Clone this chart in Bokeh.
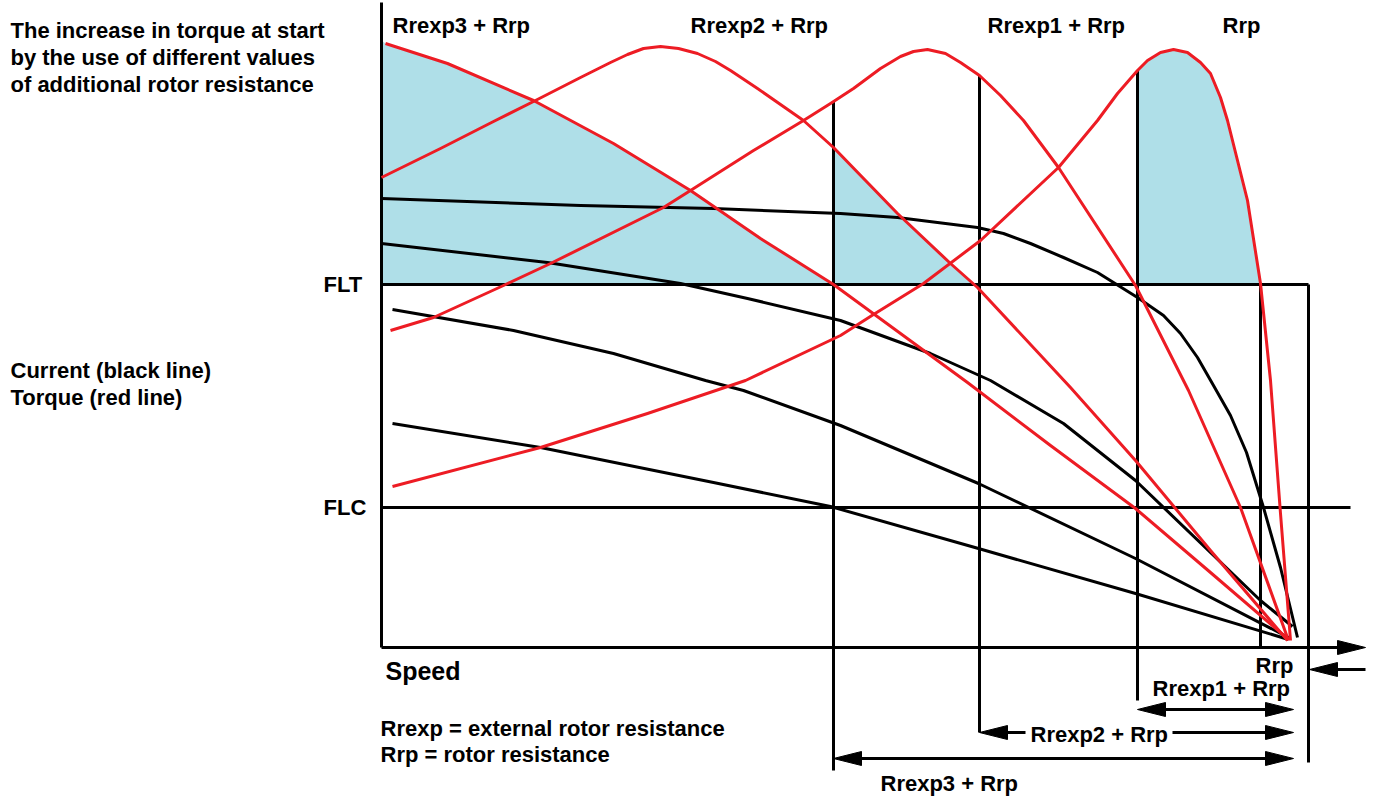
import numpy as np
from bokeh.plotting import figure
from bokeh.models import Range1d
from bokeh.core.properties import value
from bokeh.embed import file_html
from bokeh.resources import INLINE

# ---------------- data (speed on x, torque/current on y, origin at axes corner) -------------
FLT = 363          # full load torque level
FLC = 140          # full load current level

# torque curves (red)
rrexp3_speed = [4, 66, 152, 232, 309, 379, 452, 519, 586, 669, 754, 829, 906]
rrexp3_torque = [604, 584, 547, 504, 457, 409, 363, 314, 265, 202, 139, 75, 9]

rrexp2_speed = [0, 59, 112, 152, 199, 229, 246, 262, 279, 297, 316, 334, 349, 376, 422, 452,
                516, 569, 596, 689, 754, 829, 906]
rrexp2_torque = [470, 499, 526, 546, 570, 585, 593, 599, 601, 599, 594, 586, 577, 559, 527, 500,
                 434, 384, 360, 260, 187, 97, 7]

rrexp1_speed = [9, 52, 122, 169, 282, 309, 372, 422, 449, 472, 499, 519, 532, 546, 564, 579,
                598, 619, 642, 677, 754, 807, 859, 907]
rrexp1_torque = [317, 330, 362, 384, 440, 457, 497, 527, 544, 559, 579, 591, 596, 598, 594, 585,
                 572, 552, 527, 480, 362, 257, 140, 7]

rrp_speed = [11, 159, 266, 364, 459, 492, 542, 599, 677, 716, 736, 756, 766, 779, 792, 806,
             819, 829, 839, 846, 866, 879, 889, 899, 909]
rrp_torque = [161, 200, 234, 267, 312, 333, 364, 407, 480, 527, 554, 577, 587, 595, 598, 595,
              585, 574, 550, 527, 447, 364, 267, 134, 7]

# current curves (black)
cur1_speed = [0, 199, 332, 459, 516, 596, 622, 649, 682, 716, 756, 782, 799, 816, 832, 849,
              865, 882, 899, 916]
cur1_value = [449, 442, 439, 434, 430, 420, 414, 404, 390, 375, 350, 332, 314, 290, 262, 232,
              195, 140, 80, 10]
cur2_speed = [0, 166, 299, 366, 459, 549, 609, 682, 754, 879, 911]
cur2_value = [404, 385, 364, 349, 327, 294, 267, 224, 167, 47, 21]
cur3_speed = [11, 132, 232, 324, 362, 459, 597, 754, 909]
cur3_value = [338, 317, 294, 267, 257, 222, 164, 89, 9]
cur4_speed = [11, 159, 332, 449, 597, 754, 907]
cur4_value = [224, 200, 165, 141, 99, 54, 8]

# switching speeds (Rrexp3, Rrexp2, Rrexp1), Rrp crossing, limit, rated speed
switch_speeds = [452, 598, 756]
rp_speed = 879
limit_speed = 927
rated_speed = 912
axis_x_end = 984
axis_y_end = 645
flc_end = 969

# dimension rows below the speed axis
dim_left = [756, 598, 452]
dim_y = [-62, -85, -111]
vline_bottom = [-123, -85, -53]     # bottoms of the switching verticals (same order as switch_speeds)
limit_bottom = -115
rrexp2_gap = [644, 791]
rp_marker_y = -22

# texts (y = baseline level)
title_lines = ["The increase in torque at start", "by the use of different values",
               "of additional rotor resistance"]
title_y = [617, 590, 563]
legend_lines = ["Current (black line)", "Torque (red line)"]
legend_y = [277, 250]
flt_label_y = FLT
flc_label_y = FLC
top_labels = ["Rrexp3 + Rrp", "Rrexp2 + Rrp", "Rrexp1 + Rrp", "Rrp"]
top_label_x = [11, 309, 606, 841]
top_label_y = 622
bottom_labels = ["Rrp", "Rrexp1 + Rrp", "Rrexp2 + Rrp", "Rrexp3 + Rrp"]
bottom_label_x = [874, 771, 649, 499]
bottom_label_y = [-18, -41, -87, -136]
notes = ["Rrexp = external rotor resistance", "Rrp = rotor resistance"]
notes_y = [-81, -107]
speed_label_y = -23

RED = "#ED1C24"
BLUE = "#AFDFE8"
FONT = value("Liberation Sans")

p = figure(width=1374, height=796, x_range=Range1d(-381, 993), y_range=Range1d(-149, 647),
           output_backend="svg", toolbar_location=None, x_axis_type=None, y_axis_type=None,
           min_border=0)
p.outline_line_color = None
p.background_fill_color = "white"

# ---------------- shaded regions ----------------
def interp_on(xs, ys, x):
    return float(np.interp(x, xs, ys))

def crossing_desc(xs, ys, level, start):
    xs = np.asarray(xs, float); ys = np.asarray(ys, float)
    m = xs >= start
    xa, ya = xs[m], ys[m]
    return float(np.interp(level, ya[::-1], xa[::-1]))

# region A under Rrexp3
sel = [(x, y) for x, y in zip(rrexp3_speed, rrexp3_torque) if x <= switch_speeds[0]]
a_x = [0.0, 0.0] + [x for x, _ in sel] + [switch_speeds[0]]
a_y = [FLT, rrexp3_torque[0] + 3] + [y for _, y in sel] + [FLT]
# region B under Rrexp2
b_cross = crossing_desc(rrexp2_speed, rrexp2_torque, FLT, 300)
selb = [(x, y) for x, y in zip(rrexp2_speed, rrexp2_torque) if switch_speeds[0] < x < b_cross]
b_x = [switch_speeds[0], switch_speeds[0]] + [x for x, _ in selb] + [b_cross]
b_y = [FLT, interp_on(rrexp2_speed, rrexp2_torque, switch_speeds[0])] + [y for _, y in selb] + [FLT]
# region C under Rrp
c_cross = crossing_desc(rrp_speed, rrp_torque, FLT, 800)
selc = [(x, y) for x, y in zip(rrp_speed, rrp_torque) if switch_speeds[2] < x < c_cross]
c_x = [switch_speeds[2], switch_speeds[2]] + [x for x, _ in selc] + [c_cross]
c_y = [FLT, interp_on(rrp_speed, rrp_torque, switch_speeds[2])] + [y for _, y in selc] + [FLT]
p.patches([a_x, b_x, c_x], [a_y, b_y, c_y], fill_color=BLUE, line_color=None)

# ---------------- frame lines ----------------
LW = 3
p.segment(x0=[0, 0, 0, 0, limit_speed, rp_speed], y0=[0, 0, FLT, FLC, FLT, FLT],
          x1=[0, axis_x_end - 26, limit_speed, flc_end, limit_speed, rp_speed],
          y1=[axis_y_end, 0, FLT, FLC, limit_bottom, 0], line_color="black", line_width=LW)
# switching verticals from curve to dimension rows
tops = [interp_on(rrexp1_speed, rrexp1_torque, switch_speeds[0]),
        interp_on(rrexp1_speed, rrexp1_torque, switch_speeds[1]),
        interp_on(rrp_speed, rrp_torque, switch_speeds[2])]
p.segment(x0=switch_speeds, y0=tops, x1=switch_speeds, y1=vline_bottom,
          line_color="black", line_width=LW)

# ---------------- current curves ----------------
for xs, ys in [(cur1_speed, cur1_value), (cur2_speed, cur2_value),
               (cur3_speed, cur3_value), (cur4_speed, cur4_value)]:
    p.line(xs, ys, line_color="black", line_width=LW, line_join="round")

# ---------------- torque curves ----------------
for xs, ys in [(rrexp3_speed, rrexp3_torque), (rrexp2_speed, rrexp2_torque),
               (rrexp1_speed, rrexp1_torque), (rrp_speed, rrp_torque)]:
    p.line(xs, ys, line_color=RED, line_width=LW, line_join="round")

# ---------------- arrows ----------------
HL, HW = 28, 7
head_xs, head_ys = [], []
def head(tx, ty, d):
    head_xs.append([tx, tx - d * HL, tx - d * HL])
    head_ys.append([ty, ty + HW, ty - HW])

seg_x0, seg_x1, seg_y = [], [], []
for i, (xl, yy) in enumerate(zip(dim_left, dim_y)):
    head(rated_speed, yy, 1)
    head(xl, yy, -1)
    if i == 1:
        seg_x0 += [xl + 10, rrexp2_gap[1]]
        seg_x1 += [rrexp2_gap[0], rated_speed - 10]
        seg_y += [yy, yy]
    else:
        seg_x0.append(xl + 10); seg_x1.append(rated_speed - 10); seg_y.append(yy)
# speed axis arrow
head(axis_x_end, 0, 1)
# Rrp marker arrow pointing left to limit line
head(limit_speed + 1, rp_marker_y, -1)
seg_x0.append(limit_speed + 20); seg_x1.append(axis_x_end); seg_y.append(rp_marker_y)
p.segment(x0=seg_x0, y0=seg_y, x1=seg_x1, y1=seg_y, line_color="black", line_width=LW)
p.patches(head_xs, head_ys, fill_color="black", line_color="black", line_width=1)

# ---------------- texts ----------------
def txt(xs, ys, texts, size="22px", align="left"):
    p.text(x=xs, y=ys, text=texts, text_font=FONT, text_font_style="bold",
           text_font_size=size, text_baseline="alphabetic", text_align=align,
           text_color="black")

txt([-371] * 3, title_y, title_lines)
txt([-371] * 2, legend_y, legend_lines)
txt([-58, -58], [flt_label_y, flc_label_y], ["FLT", "FLC"])
txt(top_label_x, [top_label_y] * 4, top_labels)
txt(bottom_label_x, bottom_label_y, bottom_labels)
txt([-1, -1], notes_y, notes)
txt([4], [speed_label_y], ["Speed"], size="25px")

open("out.html", "w").write(file_html(p, INLINE))
